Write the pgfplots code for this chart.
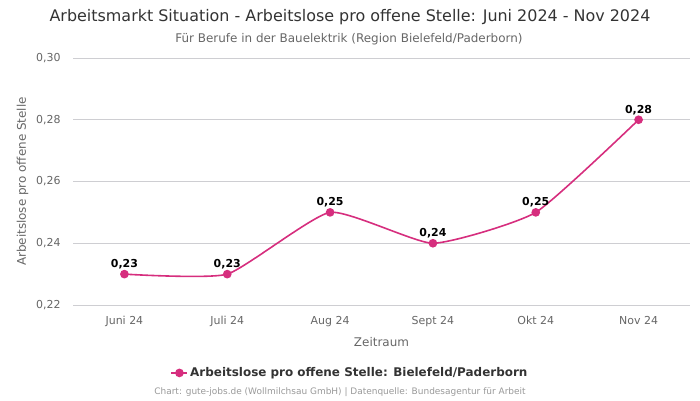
\documentclass[border=0pt]{standalone}
\usepackage{pgfplots}
\pgfplotsset{compat=1.18}
\usepackage{fontspec}
\setmainfont{DejaVu Sans}
\definecolor{linec}{RGB}{214,46,126}
\definecolor{titlec}{RGB}{51,51,51}
\definecolor{subc}{RGB}{102,102,102}
\definecolor{gridc}{RGB}{206,206,210}
\definecolor{footc}{RGB}{153,153,153}
\begin{document}
\begin{tikzpicture}[x=1bp,y=1bp]
\path (0,0) rectangle (700,400);
\node[anchor=center, text=titlec, inner sep=0] at (350,383) {\fontsize{16}{18}\selectfont Arbeitsmarkt Situation - Arbeitslose pro offene Stelle: Juni 2024 - Nov 2024};
\node[anchor=center, text=subc, inner sep=0] at (349,361) {\fontsize{12}{14}\selectfont Für Berufe in der Bauelektrik (Region Bielefeld/Paderborn)};
\node[anchor=center, text=footc, inner sep=0] at (340,8) {\fontsize{9}{10}\selectfont Chart: gute-jobs.de (Wollmilchsau GmbH) | Datenquelle: Bundesagentur für Arbeit};
\begin{axis}[
  at={(73bp,95bp)}, anchor=south west,
  scale only axis, width=617bp, height=247bp,
  xmin=-0.5, xmax=5.5, ymin=0.22, ymax=0.30,
  xtick={0,1,2,3,4,5},
  xticklabels={Juni 24, Juli 24, Aug 24, Sept 24, Okt 24, Nov 24},
  ytick={0.22,0.24,0.26,0.28,0.30},
  yticklabel style={/pgf/number format/fixed, /pgf/number format/fixed zerofill, /pgf/number format/precision=2, /pgf/number format/use comma, xshift=-9bp},
  /pgf/number format/assume math mode=true,
  ticklabel style={font=\fontsize{11}{13}\selectfont, text=subc},
  xticklabel style={yshift=-8bp},
  axis line style={draw=none},
  major tick style={draw=none},
  ymajorgrids, grid style={gridc, line width=0.8bp},
  xlabel={Zeitraum}, ylabel={Arbeitslose pro offene Stelle},
  label style={font=\fontsize{12}{14}\selectfont, text=subc},
  xlabel style={yshift=-4bp},
  ylabel style={yshift=1bp},
  legend style={at={(0.449,-0.275)}, anchor=center, draw=none, fill=none,
    font=\bfseries\fontsize{12}{14}\selectfont, text=titlec},
  legend image code/.code={
    \draw[#1, mark repeat=2, mark phase=2] plot coordinates {(0bp,0bp) (8bp,0bp) (16bp,0bp)};},
  clip=false,
]
\addplot[linec, line width=1.6bp, smooth, tension=0.3, mark=*, mark size=3.5bp,
  mark options={fill=linec, draw=linec},
  nodes near coords,
  every node near coord/.append style={font=\bfseries\fontsize{11}{12}\selectfont, text=black, yshift=1bp,
    /pgf/number format/fixed, /pgf/number format/fixed zerofill, /pgf/number format/precision=2, /pgf/number format/use comma},
] coordinates {(0,0.23) (1,0.23) (2,0.25) (3,0.24) (4,0.25) (5,0.28)};
\addlegendentry{Arbeitslose pro offene Stelle: Bielefeld/Paderborn}
\end{axis}
\end{tikzpicture}
\end{document}
